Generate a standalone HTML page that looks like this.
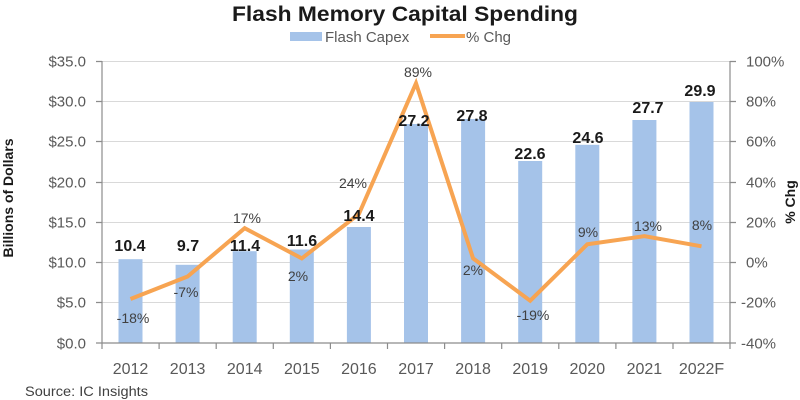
<!DOCTYPE html>
<html><head><meta charset="utf-8"><style>
html,body{margin:0;padding:0;background:#fff;}
svg{display:block;font-family:"Liberation Sans",Arial,sans-serif;}
</style></head><body>
<svg width="800" height="400" viewBox="0 0 800 400" xmlns="http://www.w3.org/2000/svg">
<rect width="800" height="400" fill="#fff"/>
<text x="405" y="21" text-anchor="middle" font-size="21" font-weight="bold" fill="#1a1a1a" textLength="346" lengthAdjust="spacingAndGlyphs">Flash Memory Capital Spending</text>
<!-- legend -->
<rect x="290" y="32" width="32" height="9" fill="#A5C3E9"/>
<text x="325" y="42" font-size="15" fill="#595959">Flash Capex</text>
<line x1="430" y1="36" x2="465" y2="36" stroke="#F7A452" stroke-width="4"/>
<text x="466" y="42" font-size="15" fill="#595959">% Chg</text>
<!-- gridlines -->
<g stroke="#D9D9D9" stroke-width="1">
<line x1="102" y1="61.5" x2="730" y2="61.5"/>
<line x1="102" y1="101.5" x2="730" y2="101.5"/>
<line x1="102" y1="141.5" x2="730" y2="141.5"/>
<line x1="102" y1="182.5" x2="730" y2="182.5"/>
<line x1="102" y1="222.5" x2="730" y2="222.5"/>
<line x1="102" y1="262.5" x2="730" y2="262.5"/>
<line x1="102" y1="302.5" x2="730" y2="302.5"/>
</g>
<!-- bars -->
<g fill="#A5C3E9">
<rect x="118.5" y="259.2" width="24" height="83.8"/>
<rect x="175.6" y="264.8" width="24" height="78.2"/>
<rect x="232.7" y="251.2" width="24" height="91.8"/>
<rect x="289.8" y="249.5" width="24" height="93.5"/>
<rect x="346.9" y="227" width="24" height="116"/>
<rect x="404" y="124" width="24" height="219"/>
<rect x="461.1" y="119" width="24" height="224"/>
<rect x="518.2" y="161" width="24" height="182"/>
<rect x="575.3" y="144.8" width="24" height="198.2"/>
<rect x="632.4" y="120" width="24" height="223"/>
<rect x="689.5" y="102" width="24" height="241"/>
</g>
<!-- axes -->
<g stroke="#8C8C8C" stroke-width="1.2" fill="none">
<line x1="102" y1="61" x2="102" y2="343"/>
<line x1="730" y1="61" x2="730" y2="343"/>
<line x1="96" y1="343" x2="736" y2="343"/>
<path d="M96 61.5H102M96 101.5H102M96 141.5H102M96 182.5H102M96 222.5H102M96 262.5H102M96 302.5H102"/>
<path d="M730 61.5H736M730 101.5H736M730 141.5H736M730 182.5H736M730 222.5H736M730 262.5H736M730 302.5H736"/>
<path d="M102 343V349M159.1 343V349M216.2 343V349M273.3 343V349M330.4 343V349M387.5 343V349M444.6 343V349M501.7 343V349M558.8 343V349M615.9 343V349M673 343V349M730 343V349"/>
</g>
<!-- line -->
<polyline fill="none" stroke="#F7A452" stroke-width="4" stroke-linejoin="miter" stroke-miterlimit="10"
points="130.5,299 187.6,276.5 244.7,228.2 301.8,258.4 358.9,214 416,83.2 473.1,258.4 530.2,300.7 587.3,244.3 644.4,236.2 701.5,246.3"/>
<!-- left axis labels -->
<g font-size="15" fill="#595959" text-anchor="end">
<text x="86" y="66.5">$35.0</text>
<text x="86" y="106.5">$30.0</text>
<text x="86" y="146.5">$25.0</text>
<text x="86" y="187.5">$20.0</text>
<text x="86" y="227.5">$15.0</text>
<text x="86" y="267.5">$10.0</text>
<text x="86" y="307.5">$5.0</text>
<text x="86" y="348.5">$0.0</text>
</g>
<g font-size="15" fill="#595959">
<text x="746" y="66.5">100%</text>
<text x="746" y="106.5">80%</text>
<text x="746" y="146.5">60%</text>
<text x="746" y="187.5">40%</text>
<text x="746" y="227.5">20%</text>
<text x="746" y="267.5">0%</text>
<text x="741" y="307.5">-20%</text>
<text x="741" y="348.5">-40%</text>
</g>
<!-- x labels -->
<g font-size="16" fill="#595959" text-anchor="middle">
<text x="130.5" y="374">2012</text>
<text x="187.6" y="374">2013</text>
<text x="244.7" y="374">2014</text>
<text x="301.8" y="374">2015</text>
<text x="358.9" y="374">2016</text>
<text x="416" y="374">2017</text>
<text x="473.1" y="374">2018</text>
<text x="530.2" y="374">2019</text>
<text x="587.3" y="374">2020</text>
<text x="644.4" y="374">2021</text>
<text x="701.5" y="374">2022F</text>
</g>
<!-- bar value labels -->
<g font-size="16" font-weight="bold" fill="#1a1a1a" text-anchor="middle">
<text x="130" y="251">10.4</text>
<text x="188" y="251">9.7</text>
<text x="245" y="251">11.4</text>
<text x="302" y="246">11.6</text>
<text x="359" y="221">14.4</text>
<text x="414" y="126">27.2</text>
<text x="472" y="121">27.8</text>
<text x="530" y="159">22.6</text>
<text x="588" y="143">24.6</text>
<text x="648" y="113">27.7</text>
<text x="700" y="96">29.9</text>
</g>
<!-- pct labels -->
<g font-size="14" fill="#404040" text-anchor="middle">
<text x="133" y="323">-18%</text>
<text x="186" y="297">-7%</text>
<text x="247" y="223">17%</text>
<text x="298" y="281">2%</text>
<text x="353" y="188">24%</text>
<text x="418" y="77">89%</text>
<text x="473" y="275">2%</text>
<text x="533" y="320">-19%</text>
<text x="588" y="237">9%</text>
<text x="648" y="231">13%</text>
<text x="702" y="230">8%</text>
</g>
<!-- axis titles -->
<text transform="translate(13,198) rotate(-90)" text-anchor="middle" font-size="14" font-weight="bold" fill="#1a1a1a">Billions of Dollars</text>
<text transform="translate(795,202) rotate(-90)" text-anchor="middle" font-size="14" font-weight="bold" fill="#1a1a1a">% Chg</text>
<text x="25" y="396" font-size="13.5" fill="#404040" textLength="123" lengthAdjust="spacingAndGlyphs">Source:  IC Insights</text>
</svg>
</body></html>
